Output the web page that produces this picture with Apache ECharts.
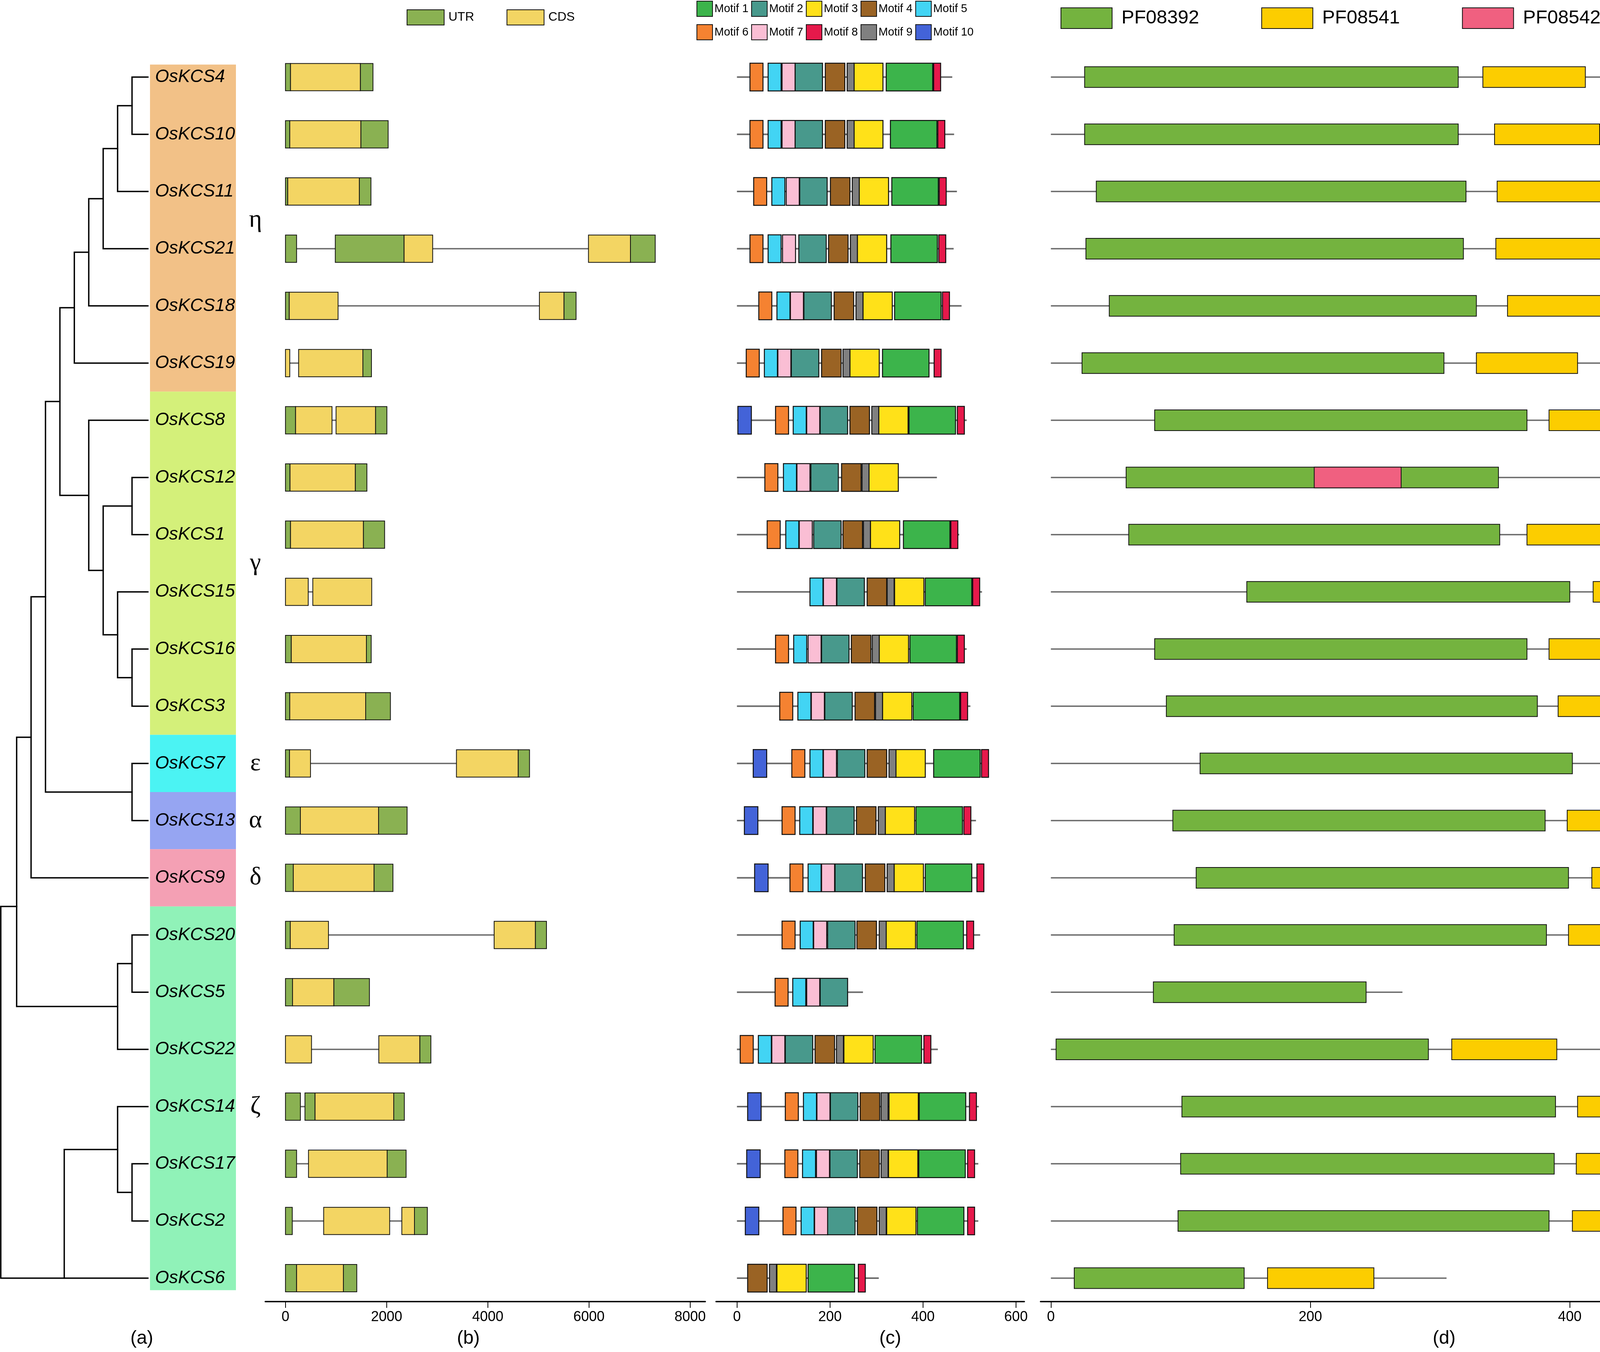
<!DOCTYPE html>
<html>
<head>
<meta charset="utf-8">
<script src="https://cdn.jsdelivr.net/npm/echarts@6/dist/echarts.min.js"></script>
<style>html,body{margin:0;padding:0;background:#fff}#chart{width:4724px;height:3460px}</style>
</head>
<body>
<div id="chart"></div>
<script>
// ---------------- data ----------------
const genes = ['OsKCS4','OsKCS10','OsKCS11','OsKCS21','OsKCS18','OsKCS19','OsKCS8','OsKCS12','OsKCS1','OsKCS15','OsKCS16','OsKCS3','OsKCS7','OsKCS13','OsKCS9','OsKCS20','OsKCS5','OsKCS22','OsKCS14','OsKCS17','OsKCS2','OsKCS6'];

// subfamily bands (rows from..to)
const subfamilies = [
  {name:'η', from:0, to:5, color:'#F2C187'},
  {name:'γ', from:6, to:11, color:'#D4F07A'},
  {name:'ε', from:12, to:12, color:'#4BF3F3'},
  {name:'α', from:13, to:13, color:'#96A5F2'},
  {name:'δ', from:14, to:14, color:'#F4A0B4'},
  {name:'ζ', from:15, to:21, color:'#90F2B8'}
];

// tree: [id, depth, [child1, child2], optional drawn row]
const TIP_DEPTH = 10.2;
const treeNodes = [
  ['A', 9.1, ['OsKCS4','OsKCS10']],
  ['B', 8.1, ['A','OsKCS11']],
  ['C', 7.1, ['B','OsKCS21']],
  ['D', 6.1, ['C','OsKCS18']],
  ['E', 5.1, ['D','OsKCS19']],
  ['I', 9.1, ['OsKCS12','OsKCS1']],
  ['K', 9.1, ['OsKCS16','OsKCS3']],
  ['J', 8.1, ['OsKCS15','K']],
  ['H', 7.1, ['I','J']],
  ['G', 6.1, ['OsKCS8','H']],
  ['F', 4.1, ['E','G']],
  ['M', 9.1, ['OsKCS7','OsKCS13']],
  ['L', 3.1, ['F','M']],
  ['N', 2.1, ['L','OsKCS9']],
  ['Q', 9.1, ['OsKCS20','OsKCS5']],
  ['P', 8.1, ['Q','OsKCS22']],
  ['O', 1.1, ['N','P'], 14.5],
  ['U', 9.1, ['OsKCS17','OsKCS2']],
  ['T', 8.1, ['OsKCS14','U']],
  ['S', 4.4, ['T','OsKCS6'], 21],
  ['root', 0, ['O','S']]
];

// gene structure: [type, start, end] (U = UTR, C = CDS), bp
const geneStructure = [
  [['U',0,100],['C',100,1480],['U',1480,1730]],
  [['U',0,85],['C',85,1490],['U',1490,2030]],
  [['U',0,45],['C',45,1460],['U',1460,1690]],
  [['U',0,220],['U',985,2345],['C',2345,2910],['C',5990,6820],['U',6820,7310]],
  [['U',0,75],['C',75,1040],['C',5020,5505],['U',5505,5745]],
  [['C',0,85],['C',260,1530],['U',1530,1700]],
  [['U',0,200],['C',200,920],['C',1000,1780],['U',1780,2005]],
  [['U',0,90],['C',90,1380],['U',1380,1610]],
  [['U',0,100],['C',100,1540],['U',1540,1960]],
  [['C',0,450],['C',540,1705]],
  [['U',0,115],['C',115,1600],['U',1600,1695]],
  [['U',0,85],['C',85,1585],['U',1585,2075]],
  [['U',0,80],['C',80,495],['C',3380,4600],['U',4600,4825]],
  [['U',0,295],['C',295,1840],['U',1840,2405]],
  [['U',0,155],['C',155,1750],['U',1750,2125]],
  [['U',0,95],['C',95,850],['C',4125,4940],['U',4940,5160]],
  [['U',0,140],['C',140,955],['U',955,1660]],
  [['C',0,515],['C',1845,2655],['U',2655,2875]],
  [['U',0,295],['U',385,585],['C',585,2140],['U',2140,2350]],
  [['U',0,220],['C',455,2010],['U',2010,2385]],
  [['U',0,135],['C',755,2060],['C',2300,2550],['U',2550,2805]],
  [['U',0,220],['C',220,1145],['U',1145,1410]]
];

const motifNames = ['Motif 1','Motif 2','Motif 3','Motif 4','Motif 5','Motif 6','Motif 7','Motif 8','Motif 9','Motif 10'];
const motifColors = ['#3CB44B','#48998C','#FFE119','#9A6324','#42D4F4','#F58231','#FABED4','#E6194B','#808080','#4363D8'];
const motifLengths = [100, 59, 63, 42, 28, 28, 28, 15, 15, 29];
const proteinLengths = [463,467,473,466,483,439,494,430,478,527,494,502,542,514,532,523,271,432,520,519,519,305];
// [motif number, start aa]
const motifSites = [
  [[6,28],[5,67],[7,97],[2,125],[4,190],[9,237],[3,251],[1,321],[8,423]],
  [[6,28],[5,67],[7,97],[2,125],[4,190],[9,237],[3,251],[1,330],[8,432]],
  [[6,36],[5,75],[7,106],[2,135],[4,201],[9,248],[3,263],[1,333],[8,435]],
  [[6,28],[5,67],[7,98],[2,133],[4,197],[9,244],[3,259],[1,331],[8,434]],
  [[6,47],[5,86],[7,115],[2,144],[4,209],[9,256],[3,271],[1,339],[8,442]],
  [[6,20],[5,59],[7,88],[2,117],[4,182],[9,228],[3,243],[1,313],[8,424]],
  [[10,2],[6,83],[5,121],[7,150],[2,179],[4,243],[9,290],[3,305],[1,370],[8,474]],
  [[6,60],[5,100],[7,129],[2,159],[4,225],[9,269],[3,284]],
  [[6,65],[5,105],[7,134],[2,165],[4,228],[9,272],[3,287],[1,358],[8,460]],
  [[5,157],[7,186],[2,215],[4,280],[9,323],[3,339],[1,405],[8,507]],
  [[6,83],[5,122],[7,153],[2,182],[4,246],[9,291],[3,306],[1,372],[8,474]],
  [[6,92],[5,131],[7,160],[2,189],[4,254],[9,298],[3,313],[1,379],[8,481]],
  [[10,35],[6,118],[5,157],[7,186],[2,216],[4,280],[9,327],[3,342],[1,423],[8,526]],
  [[10,16],[6,97],[5,135],[7,164],[2,193],[4,257],[9,304],[3,319],[1,385],[8,488]],
  [[10,38],[6,114],[5,153],[7,182],[2,211],[4,276],[9,323],[3,338],[1,405],[8,516]],
  [[6,97],[5,136],[7,165],[2,195],[4,258],[9,306],[3,321],[1,387],[8,494]],
  [[6,82],[5,120],[7,150],[2,179]],
  [[6,7],[5,46],[7,75],[2,104],[4,168],[9,214],[3,230],[1,297],[8,402]],
  [[10,23],[6,104],[5,143],[7,172],[2,201],[4,265],[9,310],[3,327],[1,392],[8,500]],
  [[10,21],[6,103],[5,141],[7,171],[2,200],[4,264],[9,310],[3,326],[1,391],[8,496]],
  [[10,18],[6,99],[5,138],[7,167],[2,195],[4,259],[9,306],[3,322],[1,388],[8,496]],
  [[4,23],[9,70],[3,86],[1,153],[8,261]]
];

const domainNames = ['PF08392','PF08541','PF08542'];
const domainColors = ['#74B33F','#FCCD00','#F06080'];
// [domain index, start, end]
const domainSites = [
  [[0,26,314],[1,333,412]],
  [[0,26,314],[1,342,423]],
  [[0,35,320],[1,344,426]],
  [[0,27,318],[1,343,425]],
  [[0,45,328],[1,352,432]],
  [[0,24,303],[1,328,406]],
  [[0,80,367],[1,384,464]],
  [[0,58,345],[2,203,270]],
  [[0,60,346],[1,367,448]],
  [[0,151,400],[1,418,497]],
  [[0,80,367],[1,384,465]],
  [[0,89,375],[1,391,472]],
  [[0,115,402],[1,435,516]],
  [[0,94,381],[1,398,477]],
  [[0,112,399],[1,417,497]],
  [[0,95,382],[1,399,480]],
  [[0,79,243]],
  [[0,4,291],[1,309,390]],
  [[0,101,389],[1,406,485]],
  [[0,100,388],[1,405,485]],
  [[0,98,384],[1,402,482]],
  [[0,18,149],[1,167,249]]
];

const structTicks = [0,2000,4000,6000,8000];
const aaTicks = [0,200,400,600];
const panelLabels = ['(a)','(b)','(c)','(d)'];

// ---------------- derived ----------------
const nodeY = {}, nodeDepth = {};
genes.forEach((g,i)=>{ nodeY[g]=i; nodeDepth[g]=TIP_DEPTH; });
treeNodes.forEach(([id, depth, kids, yFix]) => {
  nodeDepth[id] = depth;
  nodeY[id] = (yFix !== undefined) ? yFix : (nodeY[kids[0]] + nodeY[kids[1]]) / 2;
});
const treeLines = treeNodes.map(([id, depth, kids]) => ({
  coords: [
    [nodeDepth[kids[0]], nodeY[kids[0]]],
    [depth, nodeY[kids[0]]],
    [depth, nodeY[kids[1]]],
    [nodeDepth[kids[1]], nodeY[kids[1]]]
  ]
}));

const FONT = '"Liberation Sans", Arial, sans-serif';
const TOP = 51, HEIGHT = 3280, YMIN = -1, YMAX = 21.41;

function boxRenderer(frac, lw) {
  return function(params, api) {
    const s = api.coord([api.value(0), api.value(2)]);
    const e = api.coord([api.value(1), api.value(2)]);
    const h = api.size([0, 1])[1] * frac;
    return {type:'rect', shape:{x:s[0], y:s[1]-h/2, width:e[0]-s[0], height:h},
            style:{fill: api.visual('color'), stroke:'#111', lineWidth: lw}};
  };
}
function lineRenderer(lw) {
  return function(params, api) {
    const s = api.coord([api.value(0), api.value(2)]);
    const e = api.coord([api.value(1), api.value(2)]);
    return {type:'line', shape:{x1:s[0], y1:s[1], x2:e[0], y2:e[1]},
            style:{stroke:'#6b6b6b', lineWidth: lw}};
  };
}

function valueXAxis(grid, min, max, ticks) {
  return {type:'value', gridIndex:grid, min:min, max:max, splitLine:{show:false},
    axisLine:{show:true, onZero:false, lineStyle:{color:'#000', width:3.5}},
    axisTick:{show:true, customValues:ticks, length:16, lineStyle:{color:'#000', width:2}},
    axisLabel:{show:true, customValues:ticks, margin:22, fontSize:36, color:'#000', fontFamily:FONT,
      formatter: v => String(v)}};
}
function hiddenX(grid, min, max) {
  return {type:'value', gridIndex:grid, min:min, max:max, show:false, splitLine:{show:false}};
}

const grids = [
  {left:2, top:TOP, width:376.6, height:HEIGHT},
  {left:384, top:TOP, width:320, height:HEIGHT},
  {left:679, top:TOP, width:1126.6, height:HEIGHT},
  {left:1833, top:TOP, width:789.3, height:HEIGHT},
  {left:2663.7, top:TOP, width:2059, height:HEIGHT}
].map(g => Object.assign(g, {outerBoundsMode:'none', containLabel:false}));

const yAxes = grids.map((g,i) => ({type:'value', gridIndex:i, inverse:true, min:YMIN, max:YMAX, show:false, splitLine:{show:false}}));
const xAxes = [
  hiddenX(0, 0, TIP_DEPTH),
  hiddenX(1, 0, 320),
  valueXAxis(2, -400, 8300, structTicks),
  valueXAxis(3, -45, 618, aaTicks),
  valueXAxis(4, -8, 612, aaTicks)
];

const series = [];
// tree
series.push({type:'lines', coordinateSystem:'cartesian2d', xAxisIndex:0, yAxisIndex:0, polyline:true, silent:true,
  data: treeLines, lineStyle:{color:'#000', width:3.5, opacity:1, cap:'square', join:'miter'}});
// subfamily bands + greek letters
series.push({type:'custom', xAxisIndex:1, yAxisIndex:1, silent:true,
  data: subfamilies.map((s,i)=>[s.from, s.to, i]),
  renderItem: function(params, api) {
    const sf = subfamilies[api.value(2)];
    const top = sf.from === 0 ? sf.from - 0.22 : sf.from - 0.5;
    const bot = sf.to === genes.length - 1 ? sf.to + 0.21 : sf.to + 0.5;
    const p1 = api.coord([0, top]), p2 = api.coord([220, bot]);
    const pc = api.coord([270, (sf.from + sf.to) / 2]);
    return {type:'group', children:[
      {type:'rect', shape:{x:p1[0], y:p1[1], width:p2[0]-p1[0], height:p2[1]-p1[1]}, style:{fill:sf.color}},
      {type:'text', x:pc[0], y:pc[1], style:{text:sf.name, font:'64px "Liberation Serif", "DejaVu Serif", serif', fill:'#000', align:'center', verticalAlign:'middle'}}
    ]};
  }});
// gene names
series.push({type:'custom', xAxisIndex:1, yAxisIndex:1, silent:true, z:3,
  data: genes.map((g,i)=>[0, 0, i]),
  renderItem: function(params, api) {
    const p = api.coord([13, api.value(2)]);
    return {type:'text', x:p[0], y:p[1], style:{text:genes[params.dataIndex], font:'italic 46px ' + FONT, fill:'#000', align:'left', verticalAlign:'middle'}};
  }});
// gene structure
series.push({type:'custom', xAxisIndex:2, yAxisIndex:2, silent:true,
  data: geneStructure.map((segs,i)=>[Math.min(...segs.map(s=>s[1])), Math.max(...segs.map(s=>s[2])), i]),
  renderItem: lineRenderer(3.5)});
[['UTR','U','#8AB152'],['CDS','C','#F3D563']].forEach(([name, code, color]) => {
  const data = [];
  geneStructure.forEach((segs,i)=>segs.forEach(s=>{ if (s[0]===code) data.push([s[1], s[2], i]); }));
  series.push({type:'custom', name:name, xAxisIndex:2, yAxisIndex:2, silent:true, itemStyle:{color:color},
    data:data, renderItem: boxRenderer(0.478, 2)});
});
// motifs
series.push({type:'custom', xAxisIndex:3, yAxisIndex:3, silent:true,
  data: proteinLengths.map((L,i)=>[0, L, i]), renderItem: lineRenderer(4)});
motifNames.forEach((name, k) => {
  const data = [];
  motifSites.forEach((sites,i)=>sites.forEach(([m, st])=>{ if (m === k+1) data.push([st, st + motifLengths[k], i]); }));
  series.push({type:'custom', name:name, xAxisIndex:3, yAxisIndex:3, silent:true, itemStyle:{color:motifColors[k]},
    data:data, renderItem: boxRenderer(0.485, 2.5)});
});
// domains
series.push({type:'custom', xAxisIndex:4, yAxisIndex:4, silent:true,
  data: proteinLengths.map((L,i)=>[0, L, i]), renderItem: lineRenderer(3.5)});
domainNames.forEach((name, k) => {
  const data = [];
  domainSites.forEach((sites,i)=>sites.forEach(([d, st, en])=>{ if (d === k) data.push([st, en, i]); }));
  series.push({type:'custom', name:name, xAxisIndex:4, yAxisIndex:4, silent:true, itemStyle:{color:domainColors[k]},
    data:data, renderItem: boxRenderer(0.362, 2)});
});

const legendBase = {padding:0, icon:'rect', selectedMode:false, orient:'horizontal',
  itemStyle:{borderColor:'#111', borderWidth:2}};
const legends = [
  Object.assign({}, legendBase, {data:['UTR','CDS'], left:1041, top:24, itemWidth:95, itemHeight:39, itemGap:83,
    textStyle:{fontSize:32, color:'#000', fontFamily:FONT, padding:[0,0,0,6]}}),
  Object.assign({}, legendBase, {data:motifNames.slice(0,5), left:1783, top:2, itemWidth:40, itemHeight:39, itemGap:7,
    textStyle:{fontSize:29, color:'#000', fontFamily:FONT}}),
  Object.assign({}, legendBase, {data:motifNames.slice(5), left:1783, top:62, itemWidth:40, itemHeight:39, itemGap:7,
    textStyle:{fontSize:29, color:'#000', fontFamily:FONT}}),
  Object.assign({}, legendBase, {data:domainNames, left:2715, top:19, itemWidth:131, itemHeight:53, itemGap:159,
    textStyle:{fontSize:49, color:'#000', fontFamily:FONT, padding:[0,0,0,19]}})
];

const labelX = [363, 1199, 2279, 3697];
const titles = panelLabels.map((t,i)=>({text:t, left:labelX[i], top:3402, textAlign:'center', padding:0,
  textStyle:{fontSize:48, fontWeight:'normal', color:'#000', fontFamily:FONT}}));

const chart = echarts.init(document.getElementById('chart'), null, {renderer:'canvas', width:4724, height:3460});
chart.setOption({
  animation:false,
  backgroundColor:'#fff',
  title: titles,
  legend: legends,
  grid: grids,
  xAxis: xAxes,
  yAxis: yAxes,
  series: series
});
</script>
</body>
</html>
